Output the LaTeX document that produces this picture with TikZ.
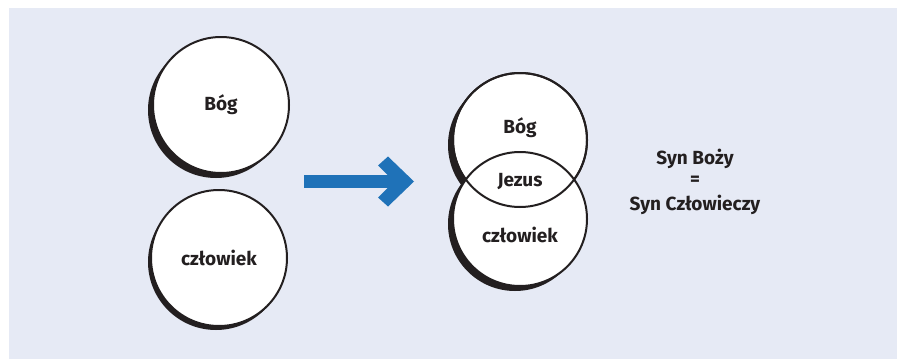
\documentclass[tikz,border=0pt]{standalone}
\usepackage{fontspec}
\setmainfont{Fira Sans}
\usepackage{tikz}
\usetikzlibrary{positioning}
\usepackage{xcolor}
\definecolor{panel}{RGB}{230,234,245}
\definecolor{arrowblue}{RGB}{31,114,184}
\definecolor{ink}{RGB}{35,31,32}
\tikzset{%
	ring/.style={
		circle,
		fill=white,
		draw=ink,
		line width=2pt,
		inner sep=0pt,
		minimum size=136pt
	},
	ring shadow/.style={
		fill=ink
	},
	word/.style={
		text=ink,
		font=\bfseries\fontsize{19}{22}\selectfont
	},
}
\begin{document}
\begin{tikzpicture}[x=1pt,y=-1pt]
			\useasboundingbox (0,0) rectangle (897,359);
			\fill[panel] (9,8) rectangle (897,359);
			
			% two separate circles
			\fill[ring shadow] (216,110) circle (68);
			\fill[ring shadow] (216,262) circle (68);
			\node[ring, word] (bog) at (221,105) {Bóg};
			\node[ring, word] (czlowiek) at (219,258) {człowiek};
			
			% arrow
			\coordinate (from) at (304,181.5);
			\coordinate (tip) at (414,181.5);
			\draw[arrowblue, line width=13pt] (from) -- ++(90,0);
			\fill[arrowblue] (tip) -- ++(-26,-25) -- ++(-10,9) -- ++(16,16) -- ++(-16,16) -- ++(10,9) -- cycle;
			
			% overlapping circles
			\fill[ring shadow] (515,145) circle (67);
			\fill[ring shadow] (515,224) circle (67);
			\node[ring, minimum size=134pt] (bog2) at (520,140) {};
			\node[ring, minimum size=134pt] (czlowiek2) at (520,219) {};
			\draw[draw=ink, line width=2pt] (bog2.center) circle (67);
			\node[word] (bog2 text) at (520,128) {Bóg};
			\node[word] (jezus) at (520,182) {Jezus};
			\node[word] (czlowiek2 text) at (520,235) {człowiek};
			
			% right text
			\node[word] (syn bozy) at (695,159) {Syn Boży};
			\node[word] (equals) at (695,181) {=};
			\node[word] (syn czlowieczy) at (695,205) {Syn Człowieczy};
\end{tikzpicture}
\end{document}
